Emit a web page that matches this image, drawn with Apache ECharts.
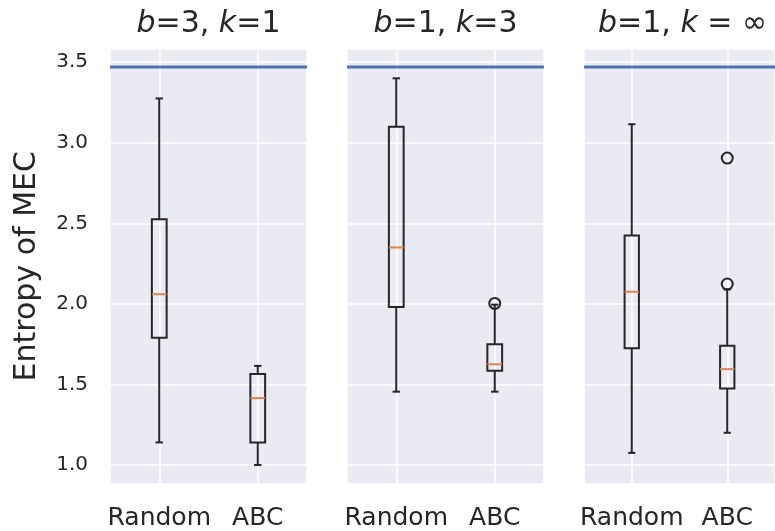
<!DOCTYPE html>
<html>
<head>
<meta charset="utf-8">
<script src="https://cdn.jsdelivr.net/npm/echarts@6/dist/echarts.min.js"></script>
<style>
  html, body { margin: 0; padding: 0; background: #fff; }
  #chart { width: 775px; height: 531px; }
</style>
</head>
<body>
<div id="chart"></div>
<script>
// Box categories shared by every panel
const categories = ['Random', 'ABC'];

// Panel headings (rich text: {i|...} is set in italics)
const panelTitles = ['{i|b}=3, {i|k}=1', '{i|b}=1, {i|k}=3', '{i|b}=1, {i|k} = ∞'];

// Five-number summaries per box: [lower whisker, Q1, median, Q3, upper whisker]
const randomB3K1 = [1.14, 1.79, 2.06, 2.525, 3.275];
const abcB3K1 = [1.00, 1.14, 1.415, 1.565, 1.615];
const randomB1K3 = [1.455, 1.98, 2.35, 3.10, 3.40];
const abcB1K3 = [1.455, 1.585, 1.625, 1.75, 1.995];
const randomB1Kinf = [1.075, 1.725, 2.075, 2.425, 3.115];
const abcB1Kinf = [1.20, 1.475, 1.595, 1.74, 2.09];

// Outlying points (all in the ABC column)
const outliersB3K1 = [];
const outliersB1K3 = [2.003];
const outliersB1Kinf = [2.123, 2.905];

// Maximum possible entropy, drawn as a horizontal reference line
const maxEntropy = 3.47;

// Y range and axis label
const yMin = 0.882, yMax = 3.585;
const yAxisTitle = 'Entropy of MEC';

const panels = [
  { boxes: [randomB3K1, abcB3K1], outliers: outliersB3K1 },
  { boxes: [randomB1K3, abcB1K3], outliers: outliersB1K3 },
  { boxes: [randomB1Kinf, abcB1Kinf], outliers: outliersB1Kinf }
];

const FONT = 'DejaVu Sans';
const TEXT = '#262626';
const BOX = '#262626';
const MEDIAN = '#DD8452';
const REF = '#4C72B0';
const BG = '#EAEAF2';

const panelLeft = [110, 347, 584];
const panelWidth = 197;
const panelTop = 48.5;
const panelHeight = 435.5;

function renderBox(params, api) {
  const c = api.value(0);
  const lo = api.coord([c, api.value(1)]);
  const q1 = api.coord([c, api.value(2)]);
  const md = api.coord([c, api.value(3)]);
  const q3 = api.coord([c, api.value(4)]);
  const hi = api.coord([c, api.value(5)]);
  const band = api.size([1, 0])[0];
  const hw = band * 0.075;   // box half width (0.15 of one unit)
  const cw = band * 0.0375;  // cap half width
  const cx = lo[0];
  const st = { stroke: BOX, lineWidth: 2, fill: 'none' };
  return {
    type: 'group',
    children: [
      { type: 'line', shape: { x1: cx, y1: lo[1], x2: cx, y2: q1[1] }, style: st },
      { type: 'line', shape: { x1: cx, y1: q3[1], x2: cx, y2: hi[1] }, style: st },
      { type: 'line', shape: { x1: cx - cw, y1: lo[1], x2: cx + cw, y2: lo[1] }, style: st },
      { type: 'line', shape: { x1: cx - cw, y1: hi[1], x2: cx + cw, y2: hi[1] }, style: st },
      { type: 'rect', shape: { x: cx - hw, y: q3[1], width: 2 * hw, height: q1[1] - q3[1] }, style: st },
      { type: 'line', shape: { x1: cx - hw, y1: md[1], x2: cx + hw, y2: md[1] }, style: { stroke: MEDIAN, lineWidth: 2 } }
    ]
  };
}

const grid = [], xAxis = [], yAxis = [], series = [], graphic = [];

panels.forEach((p, i) => {
  grid.push({
    left: panelLeft[i], top: panelTop, width: panelWidth, height: panelHeight,
    show: true, backgroundColor: BG, borderWidth: 0
  });
  // category axis carrying the boxes and labels
  xAxis.push({
    type: 'category', gridIndex: i, data: categories, boundaryGap: true,
    axisLine: { show: false }, axisTick: { show: false }, splitLine: { show: false },
    axisLabel: {
      show: true, interval: 0, hideOverlap: false, margin: 22,
      color: TEXT, fontFamily: FONT, fontSize: 25
    }
  });
  // companion value axis for vertical grid lines through box centres
  xAxis.push({
    type: 'value', gridIndex: i, min: 0.5, max: 2.5, splitNumber: 2,
    axisLine: { show: false }, axisTick: { show: false }, axisLabel: { show: false },
    splitLine: { show: true, lineStyle: { color: '#fff', width: 1.5 } }
  });
  yAxis.push({
    type: 'value', gridIndex: i, min: yMin, max: yMax, splitNumber: 5,
    axisLine: { show: false }, axisTick: { show: false },
    axisLabel: {
      show: i === 0, margin: 22, color: TEXT, fontFamily: FONT, fontSize: 20,
      showMinLabel: false, showMaxLabel: false,
      formatter: v => v.toFixed(1)
    },
    splitLine: { show: true, lineStyle: { color: '#fff', width: 1.5 } }
  });

  series.push({
    type: 'line', xAxisIndex: 2 * i + 1, yAxisIndex: i,
    data: [[0.5, maxEntropy], [2.5, maxEntropy]],
    symbol: 'none', lineStyle: { color: REF, width: 3 }, silent: true, z: 3
  });
  series.push({
    type: 'custom', xAxisIndex: 2 * i, yAxisIndex: i,
    renderItem: renderBox, clip: false,
    encode: { x: 0, y: [1, 2, 3, 4, 5] },
    data: p.boxes.map((b, k) => [k].concat(b)), z: 4
  });
  series.push({
    type: 'scatter', xAxisIndex: 2 * i, yAxisIndex: i,
    data: p.outliers.map(v => [1, v]),
    symbol: 'circle', symbolSize: 11,
    itemStyle: { color: 'rgba(0,0,0,0)', borderColor: BOX, borderWidth: 2, opacity: 1 },
    z: 5
  });

  graphic.push({
    type: 'text', x: panelLeft[i] + panelWidth / 2, y: 24,
    style: {
      text: panelTitles[i], fill: TEXT, fontFamily: FONT, fontSize: 30,
      align: 'center', verticalAlign: 'middle',
      rich: { i: { fontStyle: 'italic', fontFamily: FONT, fontSize: 30, fill: TEXT } }
    }
  });
});

graphic.push({
  type: 'text', x: 27, y: panelTop + panelHeight / 2, rotation: Math.PI / 2,
  style: {
    text: yAxisTitle, fill: TEXT, fontFamily: FONT, fontSize: 30,
    align: 'center', verticalAlign: 'middle'
  }
});

const chart = echarts.init(document.getElementById('chart'), null, { renderer: 'canvas' });
chart.setOption({
  animation: false,
  backgroundColor: '#fff',
  grid, xAxis, yAxis, series, graphic
});
</script>
</body>
</html>
